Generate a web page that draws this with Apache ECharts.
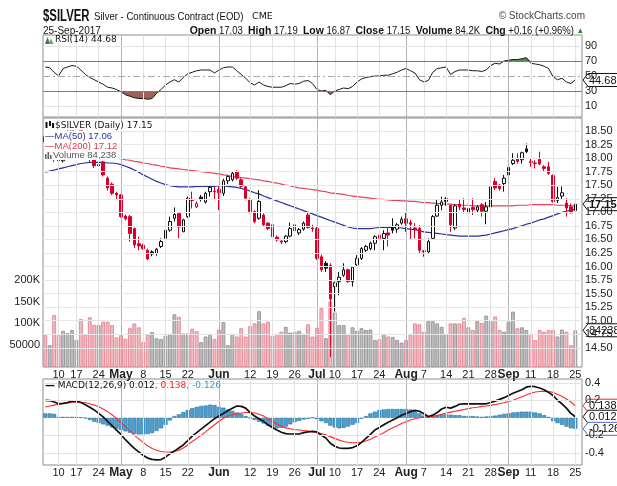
<!DOCTYPE html>
<html><head><meta charset="utf-8">
<script src="https://cdn.jsdelivr.net/npm/echarts@6/dist/echarts.min.js"></script>
<style>html,body{margin:0;padding:0;background:#fff}#c{width:617px;height:486px}</style>
</head><body><div id="c"></div>
<script>
// ---------------- DATA ----------------
const dates = ['04-05','04-06','04-07','04-10','04-11','04-12','04-13','04-17','04-18','04-19','04-20','04-21','04-24','04-25','04-26','04-27','04-28',
'05-01','05-02','05-03','05-04','05-05','05-08','05-09','05-10','05-11','05-12','05-15','05-16','05-17','05-18','05-19','05-22','05-23','05-24','05-25','05-26','05-30','05-31',
'06-01','06-02','06-05','06-06','06-07','06-08','06-09','06-12','06-13','06-14','06-15','06-16','06-19','06-20','06-21','06-22','06-23','06-26','06-27','06-28','06-29','06-30',
'07-03','07-05','07-06','07-07','07-10','07-11','07-12','07-13','07-14','07-17','07-18','07-19','07-20','07-21','07-24','07-25','07-26','07-27','07-28','07-31',
'08-01','08-02','08-03','08-04','08-07','08-08','08-09','08-10','08-11','08-14','08-15','08-16','08-17','08-18','08-21','08-22','08-23','08-24','08-25','08-28','08-29','08-30','08-31',
'09-01','09-05','09-06','09-07','09-08','09-11','09-12','09-13','09-14','09-15','09-18','09-19','09-20','09-21','09-22','09-25'];

const open = [18.40,18.28,18.30,18.00,17.95,18.30,18.45,18.52,18.52,18.30,18.10,17.99,17.86,17.93,17.63,17.52,17.35,
17.32,16.93,16.92,16.70,16.42,16.39,16.30,16.27,16.24,16.37,16.52,16.67,16.89,16.98,16.64,16.92,17.24,17.10,17.28,17.19,17.38,17.39,
17.42,17.35,17.58,17.60,17.74,17.60,17.47,17.23,17.01,16.89,16.95,16.80,16.77,16.54,16.47,16.46,16.56,16.77,16.62,16.69,16.95,16.71,
16.70,16.18,16.06,16.02,15.63,15.72,15.84,15.94,15.72,16.03,16.15,16.30,16.33,16.43,16.58,16.52,16.62,16.73,16.69,16.80,
16.88,16.81,16.71,16.70,16.29,16.27,16.52,16.93,17.13,17.25,17.13,16.71,17.15,17.08,16.99,17.09,17.04,17.14,17.02,17.10,17.57,17.50,17.53,
17.69,17.90,17.98,17.97,18.17,17.94,17.91,17.98,17.84,17.84,17.68,17.22,17.30,17.17,17.10,17.03];
const high = [18.45,18.40,18.35,18.04,18.36,18.52,18.60,18.65,18.55,18.35,18.14,18.02,17.92,17.95,17.66,17.55,17.38,
17.34,16.96,16.95,16.72,16.55,16.42,16.33,16.30,16.34,16.52,16.73,16.92,17.09,16.98,16.88,17.29,17.38,17.20,17.32,17.38,17.50,17.47,
17.50,17.62,17.68,17.75,17.78,17.63,17.49,17.26,17.04,17.41,16.98,16.82,16.80,16.57,16.50,16.58,16.81,16.79,16.71,16.83,17.00,16.77,
16.74,16.22,16.10,16.06,15.72,15.90,16.06,15.96,16.00,16.21,16.36,16.40,16.46,16.58,16.61,16.67,16.73,16.89,16.80,16.92,
17.00,16.86,16.80,16.76,16.30,16.52,16.95,17.23,17.29,17.28,17.13,17.15,17.23,17.26,17.10,17.26,17.13,17.17,17.19,17.50,17.63,17.52,17.69,
17.84,18.09,18.09,18.12,18.27,18.00,17.96,18.12,17.87,17.93,17.70,17.47,17.48,17.26,17.16,17.19];
const low = [18.25,18.22,17.93,17.75,17.92,18.26,18.40,18.42,18.25,18.05,17.92,17.82,17.56,17.66,17.40,17.32,17.23,
16.90,16.85,16.46,16.34,16.30,16.31,16.12,16.19,16.20,16.34,16.49,16.64,16.83,16.52,16.64,16.90,17.07,17.08,17.20,17.16,17.29,17.23,
17.04,17.30,17.52,17.57,17.60,17.45,17.22,16.98,16.80,16.86,16.74,16.67,16.52,16.46,16.41,16.43,16.54,16.27,16.58,16.66,16.70,16.64,
16.12,15.90,15.90,14.33,15.17,15.47,15.81,15.70,15.63,16.00,16.12,16.27,16.30,16.30,16.43,16.30,16.37,16.61,16.62,16.77,
16.64,16.49,16.52,16.24,16.18,16.25,16.49,16.92,17.04,17.12,16.64,16.67,17.04,16.98,16.89,16.95,17.00,16.92,16.78,17.09,17.41,17.40,17.38,
17.53,17.87,17.90,17.90,18.09,17.84,17.81,17.87,17.75,17.69,17.18,17.17,17.25,16.92,16.98,16.87];
const close = [18.30,18.34,17.98,17.95,18.30,18.45,18.52,18.56,18.30,18.12,17.98,17.86,17.88,17.69,17.45,17.35,17.32,
16.92,16.88,16.61,16.40,16.38,16.33,16.14,16.23,16.32,16.46,16.67,16.83,16.96,16.73,16.86,17.26,17.22,17.16,17.24,17.35,17.46,17.38,
17.36,17.58,17.66,17.72,17.63,17.48,17.26,17.01,16.83,17.20,16.77,16.70,16.55,16.49,16.45,16.56,16.70,16.66,16.68,16.80,16.72,16.70,
16.15,15.94,15.97,15.40,15.70,15.80,15.94,15.72,15.99,16.15,16.33,16.37,16.43,16.55,16.52,16.61,16.58,16.67,16.77,16.87,
16.80,16.78,16.68,16.30,16.27,16.46,16.92,17.13,17.19,17.20,16.77,17.12,17.10,17.05,17.07,17.05,17.10,17.02,17.10,17.47,17.45,17.44,17.63,
17.83,17.96,17.94,18.10,18.12,17.92,17.90,17.89,17.81,17.72,17.20,17.27,17.36,17.08,16.99,17.15];
const firstPrevClose = 18.42;

const volume = [73000,50000,119000,73000,83000,78000,85000,62000,110000,75000,114000,97000,96000,104000,104000,96000,68000,
73000,65000,89000,100000,91000,58000,74000,80000,66000,64000,72000,76000,121000,115000,77000,77000,88000,82000,57000,70000,76000,64000,
86000,103000,50000,76000,70000,89000,70000,94000,100000,128000,100000,104000,71000,76000,81000,92000,79000,81000,83000,76000,98000,70000,
90000,135000,66000,150000,125000,96000,96000,76000,91000,83000,89000,85000,86000,62000,64000,76000,70000,69000,62000,56000,
62000,76000,100000,98000,81000,105000,105000,100000,92000,76000,100000,100000,100000,113000,91000,85000,105000,101000,118000,105000,116000,85000,81000,
104000,127000,89000,91000,85000,76000,62000,85000,81000,85000,85000,70000,86000,81000,50000,84238];

const ma50 = [17.74,17.76,17.78,17.80,17.82,17.84,17.86,17.88,17.90,17.91,17.92,17.92,17.92,17.92,17.91,17.91,17.90,
17.88,17.85,17.82,17.78,17.74,17.69,17.65,17.61,17.57,17.54,17.51,17.49,17.48,17.47,17.47,17.47,17.47,17.48,17.48,17.48,17.48,17.48,
17.49,17.49,17.48,17.47,17.46,17.44,17.42,17.39,17.36,17.34,17.30,17.27,17.24,17.21,17.18,17.15,17.12,17.09,17.06,17.03,17.00,16.97,
16.94,16.91,16.88,16.85,16.82,16.79,16.76,16.73,16.71,16.70,16.70,16.70,16.70,16.71,16.72,16.72,16.72,16.72,16.72,16.71,
16.70,16.69,16.68,16.66,16.64,16.63,16.62,16.61,16.60,16.59,16.58,16.57,16.56,16.56,16.56,16.56,16.56,16.57,16.58,16.60,16.62,16.64,16.66,
16.68,16.70,16.73,16.75,16.78,16.80,16.83,16.86,16.88,16.91,16.94,16.97,17.00,17.02,17.04,17.06];
const ma200 = [18.22,18.21,18.20,18.18,18.17,18.16,18.14,18.13,18.12,18.10,18.09,18.08,18.06,18.05,18.03,18.02,18.00,
17.99,17.97,17.96,17.94,17.93,17.91,17.90,17.88,17.87,17.85,17.84,17.82,17.81,17.80,17.79,17.78,17.77,17.76,17.75,17.74,17.73,17.72,
17.71,17.69,17.68,17.66,17.65,17.64,17.63,17.62,17.61,17.60,17.58,17.57,17.55,17.54,17.52,17.50,17.49,17.47,17.45,17.44,17.43,17.42,
17.41,17.39,17.38,17.36,17.35,17.34,17.33,17.31,17.30,17.29,17.28,17.27,17.26,17.25,17.24,17.24,17.23,17.22,17.22,17.21,
17.21,17.20,17.20,17.19,17.18,17.18,17.17,17.16,17.16,17.15,17.15,17.14,17.14,17.13,17.13,17.12,17.12,17.12,17.12,17.12,17.12,17.12,17.12,
17.12,17.12,17.13,17.13,17.13,17.14,17.14,17.14,17.14,17.14,17.14,17.13,17.13,17.13,17.12,17.12];

const rsi = [62,61,55,50,60,62,64,63,58,52,48,45,42,39,35,34,32,
29,25,23,21,20,20,19,20,27,32,38,42,45,42,48,53,55,57,58,58,58,54,
58,61,62,62,57,52,47,41,38,42,38,36,35,35,35,37,40,39,40,43,44,40,
32,30,31,25,30,32,34,33,36,42,46,48,49,50,50,51,51,53,55,58,
60,57,54,45,42,44,55,60,61,62,52,56,58,58,58,57,57,56,58,64,67,66,70,
71,72,72,73,74.5,67,66,65,63,60,49,45,47,42,40,44.68];

const macd = [0.200,0.197,0.180,0.160,0.165,0.175,0.190,0.190,0.175,0.150,0.120,0.090,0.050,0.010,-0.040,-0.090,-0.140,
-0.190,-0.250,-0.300,-0.350,-0.390,-0.430,-0.460,-0.475,-0.480,-0.477,-0.450,-0.410,-0.380,-0.345,-0.310,-0.260,-0.210,-0.170,-0.130,-0.090,-0.050,-0.010,
0.020,0.050,0.080,0.110,0.135,0.130,0.110,0.060,0.020,-0.010,-0.040,-0.080,-0.110,-0.140,-0.165,-0.180,-0.185,-0.185,-0.185,-0.170,-0.160,-0.155,
-0.160,-0.200,-0.230,-0.290,-0.325,-0.345,-0.350,-0.350,-0.340,-0.320,-0.280,-0.235,-0.190,-0.140,-0.110,-0.080,-0.050,-0.025,0.000,0.030,
0.050,0.070,0.085,0.075,0.045,0.015,0.030,0.060,0.100,0.120,0.110,0.130,0.155,0.160,0.160,0.160,0.160,0.160,0.160,0.175,0.190,0.210,0.230,
0.255,0.280,0.300,0.320,0.350,0.360,0.355,0.340,0.320,0.290,0.255,0.200,0.160,0.110,0.050,0.012];
const signal = [0.123,0.135,0.145,0.155,0.162,0.168,0.175,0.178,0.178,0.172,0.160,0.145,0.125,0.100,0.070,0.035,-0.010,
-0.055,-0.100,-0.150,-0.200,-0.240,-0.280,-0.320,-0.350,-0.370,-0.385,-0.390,-0.390,-0.385,-0.370,-0.345,-0.310,-0.270,-0.235,-0.200,-0.160,-0.120,-0.080,
-0.040,-0.005,0.020,0.035,0.045,0.055,0.060,0.060,0.055,0.040,0.020,-0.010,-0.040,-0.070,-0.095,-0.115,-0.125,-0.135,-0.140,-0.145,-0.150,-0.160,
-0.170,-0.180,-0.195,-0.215,-0.235,-0.255,-0.270,-0.280,-0.285,-0.285,-0.280,-0.265,-0.245,-0.220,-0.195,-0.170,-0.140,-0.115,-0.090,-0.065,
-0.045,-0.025,-0.010,0.000,0.008,0.012,0.016,0.025,0.040,0.055,0.065,0.075,0.085,0.095,0.105,0.115,0.120,0.130,0.135,0.142,0.150,0.160,0.172,
0.185,0.200,0.220,0.240,0.260,0.280,0.295,0.300,0.305,0.300,0.290,0.270,0.245,0.215,0.180,0.138];
const hist = [0.050,0.050,0.045,0.010,0.010,0.010,0.010,0.010,0.005,-0.005,-0.025,-0.045,-0.060,-0.075,-0.090,-0.110,-0.125,
-0.140,-0.155,-0.170,-0.185,-0.190,-0.190,-0.185,-0.175,-0.150,-0.120,-0.080,-0.030,0.020,0.040,0.065,0.090,0.110,0.125,0.135,0.140,0.150,0.145,
0.125,0.115,0.095,0.080,0.060,0.045,0.020,-0.005,-0.025,-0.045,-0.065,-0.090,-0.105,-0.120,-0.115,-0.100,-0.075,-0.050,-0.035,-0.020,-0.010,0.000,
-0.015,-0.040,-0.060,-0.090,-0.110,-0.120,-0.115,-0.100,-0.080,-0.060,-0.010,0.020,0.050,0.070,0.090,0.095,0.100,0.100,0.100,0.100,
0.100,0.095,0.075,0.050,0.025,0.010,0.020,0.030,0.040,0.040,0.035,0.030,0.030,0.020,0.020,0.020,0.015,0.010,0.015,0.020,0.025,0.035,0.045,
0.050,0.060,0.065,0.070,0.070,0.070,0.060,0.050,0.030,0.010,-0.040,-0.060,-0.080,-0.100,-0.120,-0.126];

const tickDates = ['04-10','04-17','04-24','05-01','05-08','05-15','05-22','06-01','06-12','06-19','06-26','07-03','07-10','07-17','07-24','08-01','08-07','08-14','08-21','08-28','09-01','09-11','09-18','09-25'];
const tickText  = ['10','17','24','May','8','15','22','Jun','12','19','26','Jul','10','17','24','Aug','7','14','21','28','Sep','11','18','25'];
const priceTicks = [14.5,14.75,15,15.25,15.5,15.75,16,16.25,16.5,16.75,17,17.25,17.5,17.75,18,18.25,18.5];
const volTicks = [50000,100000,150000,200000];
const rsiTicks = [10,30,50,70,90];
const macdTicks = [-0.4,-0.2,0.2,0.4];

// ---------------- CHART ----------------
const chart = echarts.init(document.getElementById('c'));
const cats = dates.concat(['']);
const L = 43, W = 539;
const FONT = 'Liberation Sans';
const RED = '#d6002b', BLK = '#111';

const tickIdx = tickDates.map(d => dates.indexOf(d));
const labelMap = {}; tickIdx.forEach((k, j) => labelMap[k] = tickText[j]);
const isMonth = t => isNaN(+t);

const candleData = open.map((o, i) => {
  const prev = i === 0 ? firstPrevClose : close[i - 1];
  const col = close[i] < prev ? RED : BLK;
  const fill = close[i] > open[i] ? '#fff' : col;
  return { value: [o, close[i], low[i], high[i]], itemStyle: { color: fill, color0: fill, borderColor: col, borderColor0: col } };
});
const volData = volume.map((v, i) => {
  const prev = i === 0 ? firstPrevClose : close[i - 1];
  const down = close[i] < prev;
  return { value: v, itemStyle: { color: down ? '#f2b9c0' : '#bcbcbc', borderColor: down ? '#e58c99' : '#9a9a9a', borderWidth: 1 } };
});

function vLines() {
  return tickIdx.map((k, j) => ({ xAxis: k, lineStyle: { color: isMonth(tickText[j]) ? '#b4b4b4' : '#e2e2e2', width: 1, type: 'solid' } }));
}
function hLines(vals, color, type) {
  return vals.map(v => ({ yAxis: v, lineStyle: { color, width: 1, type: type || 'solid' } }));
}
function gridSeries(xi, yi, data) {
  return { type: 'line', xAxisIndex: xi, yAxisIndex: yi, data: cats.map(() => null), silent: true, z: 0, symbol: 'none',
    markLine: { silent: true, symbol: ['none', 'none'], label: { show: false }, animation: false, data } };
}

function xAxisDef(gi, showLabels) {
  return {
    type: 'category', gridIndex: gi, data: cats, boundaryGap: true,
    axisLine: { show: false }, axisTick: { show: false }, splitLine: { show: false },
    axisLabel: {
      show: showLabels, margin: 2, fontFamily: FONT, fontSize: 11, color: '#222',
      interval: (idx) => labelMap[idx] !== undefined,
      formatter: (v, idx) => { const t = labelMap[idx]; if (t === undefined) return ''; return isMonth(t) ? '{b|' + t + '}' : t; },
      rich: { b: { fontWeight: 'bold', fontSize: 12, fontFamily: FONT, color: '#222' } }
    }
  };
}
const yLabel = (extra) => Object.assign({ fontFamily: FONT, fontSize: 11, color: '#222', margin: 3 }, extra);

const option = {
  animation: false,
  backgroundColor: '#fff',
  grid: [
    { left: L, width: W, top: 35, height: 82, show: true, borderColor: '#8c8c8c', borderWidth: 1, backgroundColor: '#fff' },
    { left: L, width: W, top: 118, height: 249, show: true, borderColor: '#8c8c8c', borderWidth: 1, backgroundColor: '#fff' },
    { left: L, width: W, top: 379, height: 86, show: true, borderColor: '#8c8c8c', borderWidth: 1, backgroundColor: '#fff' }
  ],
  xAxis: [xAxisDef(0, false), xAxisDef(1, true), xAxisDef(2, true)],
  yAxis: [
    { type: 'value', gridIndex: 0, position: 'right', min: -4.7, max: 104.7, splitLine: { show: false }, axisLine: { show: false }, axisTick: { show: false },
      axisLabel: yLabel({ customValues: rsiTicks }) },
    { type: 'value', gridIndex: 1, position: 'right', min: 14.146, max: 18.74, splitLine: { show: false }, axisLine: { show: false }, axisTick: { show: false },
      axisLabel: yLabel({ customValues: priceTicks, formatter: v => v.toFixed(2) }) },
    { type: 'value', gridIndex: 1, position: 'left', min: 0, max: 571000, splitLine: { show: false }, axisLine: { show: false }, axisTick: { show: false },
      axisLabel: yLabel({ customValues: volTicks, formatter: v => v === 50000 ? '50000' : (v / 1000) + 'K' }) },
    { type: 'value', gridIndex: 2, position: 'right', min: -0.539, max: 0.443, splitLine: { show: false }, axisLine: { show: false }, axisTick: { show: false },
      axisLabel: yLabel({ customValues: macdTicks, formatter: v => String(v) }) }
  ],
  series: [
    // RSI panel
    gridSeries(0, 0, vLines().concat(hLines([10, 90], '#e2e2e2'), hLines([30, 70], '#7a7a7a'), hLines([50], '#a8a8a8', [7, 3, 2, 3]))),
    { type: 'line', xAxisIndex: 0, yAxisIndex: 0, data: rsi.map(v => Math.min(v, 30)), symbol: 'none', silent: true, z: 1,
      lineStyle: { width: 0 }, areaStyle: { origin: 30, color: '#a0605a', opacity: 1 } },
    { type: 'line', xAxisIndex: 0, yAxisIndex: 0, data: rsi.map(v => Math.max(v, 70)), symbol: 'none', silent: true, z: 1,
      lineStyle: { width: 0 }, areaStyle: { origin: 70, color: '#4f8a4f', opacity: 1 } },
    { type: 'line', xAxisIndex: 0, yAxisIndex: 0, data: rsi, symbol: 'none', z: 3, lineStyle: { color: '#1a1a1a', width: 1 } },
    // Main panel
    gridSeries(1, 1, vLines().concat(hLines(priceTicks, '#e6e6e6'))),
    { type: 'bar', xAxisIndex: 1, yAxisIndex: 2, data: volData, barCategoryGap: '12%', z: 1, silent: true },
    { type: 'line', xAxisIndex: 1, yAxisIndex: 1, data: ma200, symbol: 'none', z: 2, lineStyle: { color: '#e6425c', width: 1.2 } },
    { type: 'line', xAxisIndex: 1, yAxisIndex: 1, data: ma50, symbol: 'none', z: 2, lineStyle: { color: '#28309a', width: 1.2 } },
    { type: 'candlestick', xAxisIndex: 1, yAxisIndex: 1, data: candleData, barWidth: 3, z: 3, itemStyle: { borderWidth: 1 } },
    // MACD panel
    gridSeries(2, 3, vLines().concat(hLines(macdTicks, '#e2e2e2'))),
    { type: 'bar', xAxisIndex: 2, yAxisIndex: 3, data: hist, barCategoryGap: '8%', z: 1, silent: true,
      itemStyle: { color: '#4ba0d2', borderColor: '#2a6f9a', borderWidth: 0.6 } },
    { type: 'line', xAxisIndex: 2, yAxisIndex: 3, data: signal, symbol: 'none', z: 2, lineStyle: { color: '#ff2a2a', width: 1.1 } },
    { type: 'line', xAxisIndex: 2, yAxisIndex: 3, data: macd, symbol: 'none', z: 3, lineStyle: { color: '#111', width: 1.7 } }
  ]
};
chart.setOption(option);

// ---------------- TEXT / TAGS ----------------
function txt(x, y, text, font, fill, align, extra, style) {
  return Object.assign({ type: 'text', x, y, z: 50, style: Object.assign({ text, font, fill: fill || '#111', textAlign: align || 'left', textVerticalAlign: 'middle' }, style || {}) }, extra || {});
}
function richTxt(x, y, text, font, rich, align, extra) {
  return Object.assign({ type: 'text', x, y, z: 50, style: { text, font, fill: '#111', rich, textAlign: align || 'left', textVerticalAlign: 'middle' } }, extra || {});
}
function tag(y, text, stroke, bold, color) {
  const w = text.length * 5.9 + 7;
  const x = 583;
  return { type: 'group', x, y, z: 60, children: [
    { type: 'polygon', shape: { points: [[0, 0], [5, -6.5], [w, -6.5], [w, 6.5], [5, 6.5]] }, style: { fill: '#fff', stroke, lineWidth: 1 } },
    { type: 'text', x: 6, y: 0.5, style: { text, font: (bold ? 'bold ' : '') + '11px "' + FONT + '"', fill: color || '#111', textVerticalAlign: 'middle' } }
  ] };
}
const py = (axis, v) => chart.convertToPixel({ yAxisIndex: axis }, v);
const last = close.length - 1;

const MONO = '9px "DejaVu Sans"';
const SMALL = '9.5px "' + FONT + '"';
const WBG = { backgroundColor: '#fff', padding: [0, 1, 0, 1] };
const graphics = [
  // header
  txt(43, 17, '$SILVER', 'bold 16px "' + FONT + '"', '#111', 'left', { scaleX: 0.71 }),
  txt(94, 17, 'Silver - Continuous Contract (EOD)', '11px "' + FONT + '"', '#111', 'left', { scaleX: 0.87 }),
  txt(252, 17, 'CME', '9.5px "DejaVu Sans"', '#111'),
  txt(585, 16, '\u00A9 StockCharts.com', '10px "' + FONT + '"', '#444', 'right'),
  txt(43, 31, '25-Sep-2017', '10px "' + FONT + '"', '#111'),
  richTxt(584, 31, '{b|Open} 17.03  {b|High} 17.19  {b|Low} 16.87  {b|Close} 17.15  {b|Volume} 84.2K  {b|Chg} +0.16 (+0.96%) {g|\u25B2}',
    '10px "' + FONT + '"', { b: { fontWeight: 'bold', fontSize: 11, fontFamily: FONT, fill: '#111' }, g: { fontSize: 8, fill: '#2e8b2e' } }, 'right',
    { scaleX: 0.95 }),
  // RSI legend
  { type: 'polygon', z: 50, shape: { points: [[45, 44], [47.5, 37], [50, 44]] }, style: { fill: '#3f7f3f' } },
  { type: 'polygon', z: 50, shape: { points: [[48.5, 44], [51, 38.5], [53.5, 44]] }, style: { fill: '#6aa56a' } },
  txt(55, 40, 'RSI(14) 44.68', MONO, '#111'),
  // main legend (white backgrounds hide the marks under them)
  { type: 'rect', z: 49, shape: { x: 44, y: 120, width: 10, height: 10 }, style: { fill: '#fff' } },
  { type: 'rect', z: 50, shape: { x: 45.5, y: 122, width: 2, height: 6 }, style: { fill: '#111' } },
  { type: 'rect', z: 50, shape: { x: 49, y: 121, width: 2, height: 5 }, style: { fill: '#111' } },
  { type: 'rect', z: 50, shape: { x: 52, y: 123, width: 2, height: 5 }, style: { fill: '#111' } },
  txt(54, 126, '$SILVER (Daily) 17.15', MONO, '#111', 'left', null, WBG),
  txt(44, 136, '\u2014MA(50) 17.06', SMALL, '#28309a', 'left', null, WBG),
  txt(44, 146, '\u2014MA(200) 17.12', SMALL, '#e0304a', 'left', null, WBG),
  { type: 'rect', z: 49, shape: { x: 44, y: 150, width: 9, height: 10 }, style: { fill: '#fff' } },
  { type: 'rect', z: 50, shape: { x: 45, y: 154, width: 1.6, height: 5 }, style: { fill: '#666' } },
  { type: 'rect', z: 50, shape: { x: 47.5, y: 152, width: 1.6, height: 7 }, style: { fill: '#666' } },
  { type: 'rect', z: 50, shape: { x: 50, y: 155, width: 1.6, height: 4 }, style: { fill: '#666' } },
  txt(52, 155, 'Volume 84,238', SMALL, '#555', 'left', null, WBG),
  // MACD legend
  richTxt(45, 386, '{k|\u2014} MACD(12,26,9) 0.012{r|, 0.138}{bl|, -0.126}', MONO, { k: { fill: '#111', font: 'bold 10px "DejaVu Sans"' }, r: { fill: '#ff2020', font: MONO }, bl: { fill: '#3a9ad0', font: MONO } }),
  // value tags
  tag(py(0, rsi[last]), '44.68', '#111', false),
  tag(py(1, close[last]), '17.15', '#111', true),
  tag(py(2, volume[last]), '84238', '#111', false),
  tag(py(3, signal[last]), '0.138', '#ff2020', false),
  tag(py(3, macd[last]), '0.012', '#111', false),
  tag(py(3, hist[last]), '-0.126', '#4a6fc4', false)
];
chart.setOption({ graphic: graphics });
</script>
</body></html>
